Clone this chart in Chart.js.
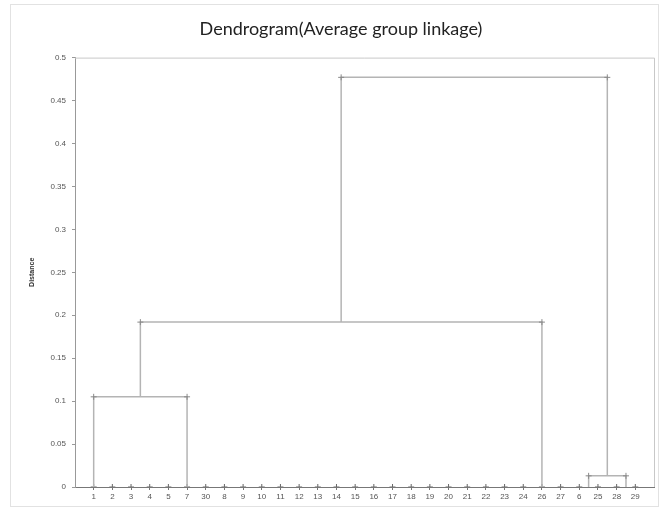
<!DOCTYPE html>
<html>
<head>
<meta charset="utf-8">
<script src="https://cdn.jsdelivr.net/npm/chart.js@4"></script>
<style>
  html, body { margin: 0; padding: 0; background: #fff; }
  #wrap { width: 666px; height: 510px; position: relative; }
</style>
</head>
<body>
<div id="wrap"><canvas id="dendro" width="666" height="510"></canvas></div>
<script>
// leaf order along the x axis, as printed under the ticks
const leafLabels = ['1','2','3','4','5','7','30','8','9','10','11','12','13','14','15',
    '16','17','18','19','20','21','22','23','24','26','27','6','25','28','29'];

// each link: left x, left height, right x, right height, merge height (x in leaf positions)
const linkLeftX   = [0,     2.5,   26.5,  13.25];
const linkLeftH   = [0,     0.105, 0,     0.192];
const linkRightX  = [5,     24,    28.5,  27.5];
const linkRightH  = [0,     0,     0,     0.013];
const linkHeight  = [0.105, 0.192, 0.013, 0.477];

const yTicks = [0, 0.05, 0.1, 0.15, 0.2, 0.25, 0.3, 0.35, 0.4, 0.45, 0.5];

const lineColor = '#b4b4b4';
const markColor = '#8a8a8a';

const datasets = linkHeight.map((h, i) => ({
    data: [
        { x: linkLeftX[i], y: linkLeftH[i] },
        { x: linkLeftX[i], y: h },
        { x: linkRightX[i], y: h },
        { x: linkRightX[i], y: linkRightH[i] }
    ],
    borderColor: lineColor,
    borderWidth: 1.5,
    pointStyle: 'cross',
    pointRadius: [0, 3, 3, 0],
    pointBorderColor: markColor,
    pointBorderWidth: 1,
    showLine: true,
    fill: false,
    tension: 0
}));

// leaves sit on the baseline
datasets.push({
    data: leafLabels.map((_, i) => ({ x: i, y: 0 })),
    showLine: false,
    pointStyle: 'cross',
    pointRadius: 3,
    pointBorderColor: '#666',
    pointBorderWidth: 1
});

// frame round the plot area
const frame = {
    id: 'frame',
    afterDraw(chart) {
        const { ctx, chartArea: a } = chart;
        ctx.save();
        ctx.strokeStyle = '#c8c8c8';
        ctx.lineWidth = 1;
        ctx.beginPath();
        ctx.moveTo(a.left, a.top + 0.5);
        ctx.lineTo(a.right + 0.5, a.top + 0.5);
        ctx.lineTo(a.right + 0.5, a.bottom);
        ctx.stroke();
        ctx.strokeStyle = '#e2e2e2';
        ctx.strokeRect(10.5, 4.5, 648, 502);
        ctx.restore();
    }
};

new Chart(document.getElementById('dendro'), {
    type: 'scatter',
    data: { datasets },
    plugins: [frame],
    options: {
        responsive: false,
        animation: false,
        layout: { padding: { left: 28, right: 12, top: 6, bottom: 4 } },
        plugins: {
            legend: { display: false },
            tooltip: { enabled: false },
            title: {
                display: true,
                text: 'Dendrogram(Average group linkage)',
                color: '#222',
                font: { family: 'Lato', size: 18, weight: 'normal' },
                padding: { top: 12, bottom: 18 }
            }
        },
        scales: {
            x: {
                type: 'linear',
                min: -1,
                max: 30,
                afterBuildTicks: (scale) => {
                    scale.ticks = leafLabels.map((_, i) => ({ value: i }));
                },
                afterFit: (scale) => { scale.height = 19; },
                grid: { display: true, drawOnChartArea: false, color: '#777', tickLength: 3 },
                border: { color: '#777', width: 1 },
                ticks: {
                    autoSkip: false,
                    maxRotation: 0,
                    color: '#555',
                    font: { family: 'Liberation Sans', size: 8 },
                    padding: 2,
                    callback: (v) => leafLabels[v]
                }
            },
            y: {
                min: 0,
                max: 0.5,
                afterBuildTicks: (scale) => {
                    scale.ticks = yTicks.map(v => ({ value: v }));
                },
                afterFit: (scale) => { scale.width = 47; },
                grid: { display: true, drawOnChartArea: false, color: '#999', tickLength: 3 },
                border: { color: '#999', width: 1 },
                title: {
                    display: true,
                    text: 'Distance',
                    color: '#333',
                    font: { family: 'Liberation Sans', size: 7, weight: 'bold' },
                    padding: { top: 0, bottom: 4 }
                },
                ticks: {
                    color: '#555',
                    font: { family: 'Liberation Sans', size: 8 },
                    padding: 6,
                    callback: (v) => String(+v.toFixed(2))
                }
            }
        }
    }
});
</script>
</body>
</html>
